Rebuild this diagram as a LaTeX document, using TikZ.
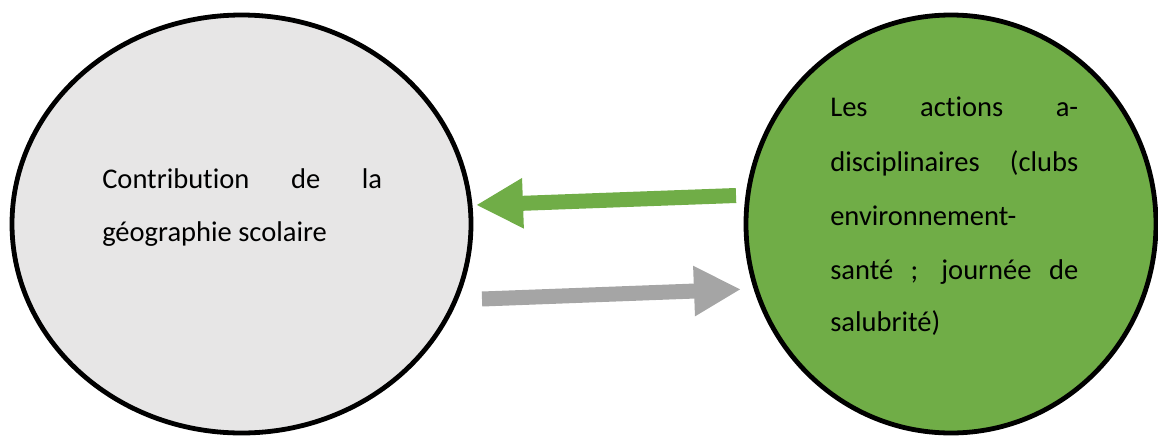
\documentclass[tikz,border=0pt]{standalone}
\usepackage{fontspec}
\setmainfont{Carlito}[Ligatures=NoCommon]
\usetikzlibrary{arrows.meta,calc,shapes.geometric}
\definecolor{bubblegray}{HTML}{E7E6E6}
\definecolor{bubblegreen}{HTML}{70AD47}
\definecolor{arrowgray}{HTML}{A5A5A5}
% one justified line of a fixed width
\newcommand{\fullline}[2]{\makebox[#1][s]{#2}}

\begin{document}
\begin{tikzpicture}[x=0.75pt, y=-0.75pt,
  bubble/.style={ellipse, draw=black, line width=3.6pt, inner sep=0pt,
    outer sep=0pt, minimum height=313.5pt},
  blockarrow/.style={line width=11.25pt,
    -{Triangle[length=35.25pt, width=35.25pt]}},
  linetext/.style={anchor=base west, inner sep=0pt,
    font=\fontsize{21.4pt}{26pt}\selectfont}]
  \useasboundingbox (0,0) rectangle (1158,437);
  % The two bubbles
  \node[bubble, fill=bubblegray, minimum width=344.25pt] (geo) at (241.5,224) {};
  \node[bubble, fill=bubblegreen, minimum width=307.5pt] (actions) at (951,224) {};
  % Text of the left bubble
  \node[linetext] (geo1) at (102,188) {\fullline{210pt}{Contribution de la}};
  \node[linetext] (geo2) at (102,241.7) {géographie scolaire};
  % Text of the right bubble
  \node[linetext] (act1) at (830,116.7) {\fullline{186pt}{Les actions a-}};
  \node[linetext] (act2) at (830,171.7) {\fullline{186pt}{disciplinaires (clubs}};
  \node[linetext] (act3) at (830,225) {environnement-};
  \node[linetext] (act4) at (830,279) {\fullline{186pt}{santé ; journée de}};
  \node[linetext] (act5) at (830,331.7) {salubrité)};
  % Block arrows between the bubbles
  \draw[blockarrow, bubblegreen]
    ($(actions.west)+(-10,-28.5)$) -- ($(geo.east)+(5,-19)$);
  \draw[blockarrow, arrowgray]
    ($(geo.east)+(11,75)$) -- ($(actions.west)+(-5,65.3)$);
\end{tikzpicture}
\end{document}
